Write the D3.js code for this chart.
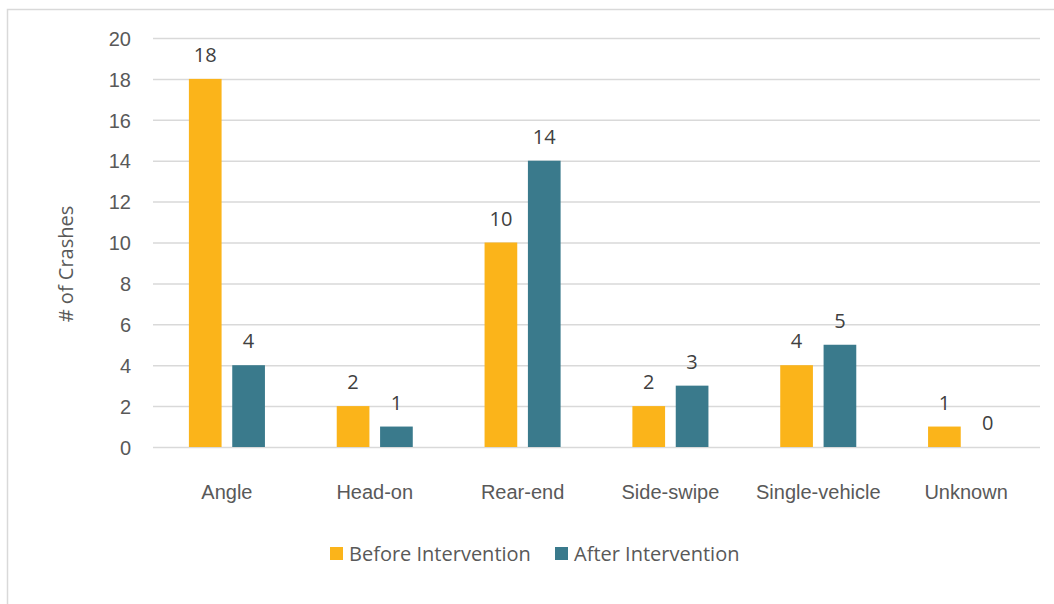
<!DOCTYPE html>
<html>
<head>
<meta charset="utf-8">
<script src="https://cdn.jsdelivr.net/npm/d3@7"></script>
<style>
  html, body { margin: 0; padding: 0; background: #fff; }
  svg { display: block; font-family: "Open Sans", "Lato", sans-serif; }
</style>
</head>
<body>
<svg id="chart" width="1054" height="604"></svg>
<script>
// Crash counts by crash type, before and after the intervention
const categories = ["Angle", "Head-on", "Rear-end", "Side-swipe", "Single-vehicle", "Unknown"];
const seriesNames = ["Before Intervention", "After Intervention"];
const beforeValues = [18, 2, 10, 2, 4, 1];
const afterValues = [4, 1, 14, 3, 5, 0];
const yTicks = [0, 2, 4, 6, 8, 10, 12, 14, 16, 18, 20];
const yAxisTitle = "# of Crashes";

const colors = ["#FBB41A", "#3A7A8C"];
const textColor = "#595959";
const gridColor = "#D9D9D9";
const fontSize = "20px";

const svg = d3.select("#chart");

// chart frame
svg.append("rect")
  .attr("x", 7.5).attr("y", 9.5)
  .attr("width", 1200).attr("height", 700)
  .attr("fill", "none")
  .attr("stroke", gridColor)
  .attr("stroke-width", 1.5);

const plot = { left: 153, right: 1040, top: 38, bottom: 447 };

const x = d3.scaleBand().domain(categories).range([plot.left, plot.right]).padding(0);
const inner = d3.scaleBand().domain(seriesNames).range([0, x.bandwidth()]).paddingInner(0.246).paddingOuter(0.828);
const y = d3.scaleLinear().domain([0, 20]).range([plot.bottom, plot.top]);

// gridlines and value ticks
const yAxis = d3.axisLeft(y).tickValues(yTicks).tickSize(-(plot.right - plot.left)).tickPadding(22);
const gy = svg.append("g").attr("transform", `translate(${plot.left},0)`).call(yAxis);
gy.select(".domain").remove();
gy.selectAll(".tick line").attr("stroke", gridColor).attr("stroke-width", 1.5);
gy.selectAll(".tick text")
  .attr("fill", textColor)
  .style("font-size", fontSize)
  .attr("dy", "0.36em");

// category axis
const xAxis = d3.axisBottom(x).tickSize(0).tickPadding(38);
const gx = svg.append("g").attr("transform", `translate(0,${plot.bottom})`).call(xAxis);
gx.select(".domain").remove();
gx.selectAll(".tick text").attr("fill", textColor).style("font-size", fontSize);

// bars
const rows = categories.map((c, i) => ({ cat: c, values: [beforeValues[i], afterValues[i]] }));
const groups = svg.append("g").selectAll("g")
  .data(rows).join("g")
  .attr("transform", d => `translate(${x(d.cat)},0)`);

groups.selectAll("rect")
  .data(d => d.values.map((v, j) => ({ name: seriesNames[j], v, j })))
  .join("rect")
  .attr("x", d => inner(d.name))
  .attr("width", inner.bandwidth())
  .attr("y", d => y(d.v))
  .attr("height", d => y(0) - y(d.v))
  .attr("fill", d => colors[d.j]);

// value labels
groups.selectAll("text")
  .data(d => d.values.map((v, j) => ({ name: seriesNames[j], v, j })))
  .join("text")
  .attr("x", d => inner(d.name) + inner.bandwidth() / 2)
  .attr("y", d => y(d.v) - 17)
  .attr("text-anchor", "middle")
  .attr("fill", "#404040")
  .style("font-size", fontSize)
  .text(d => d.v);

// y-axis title
svg.append("text")
  .attr("transform", "translate(73,264) rotate(-90)")
  .attr("text-anchor", "middle")
  .attr("fill", textColor)
  .style("font-size", fontSize)
  .text(yAxisTitle);

// legend
const legendItems = [
  { name: seriesNames[0], x: 330 },
  { name: seriesNames[1], x: 555 }
];
const legend = svg.append("g");
legendItems.forEach((item, i) => {
  legend.append("rect")
    .attr("x", item.x).attr("y", 547)
    .attr("width", 13).attr("height", 13)
    .attr("fill", colors[i]);
  legend.append("text")
    .attr("x", item.x + 19).attr("y", 561)
    .attr("fill", textColor)
    .style("font-size", fontSize)
    .text(item.name);
});
</script>
</body>
</html>
